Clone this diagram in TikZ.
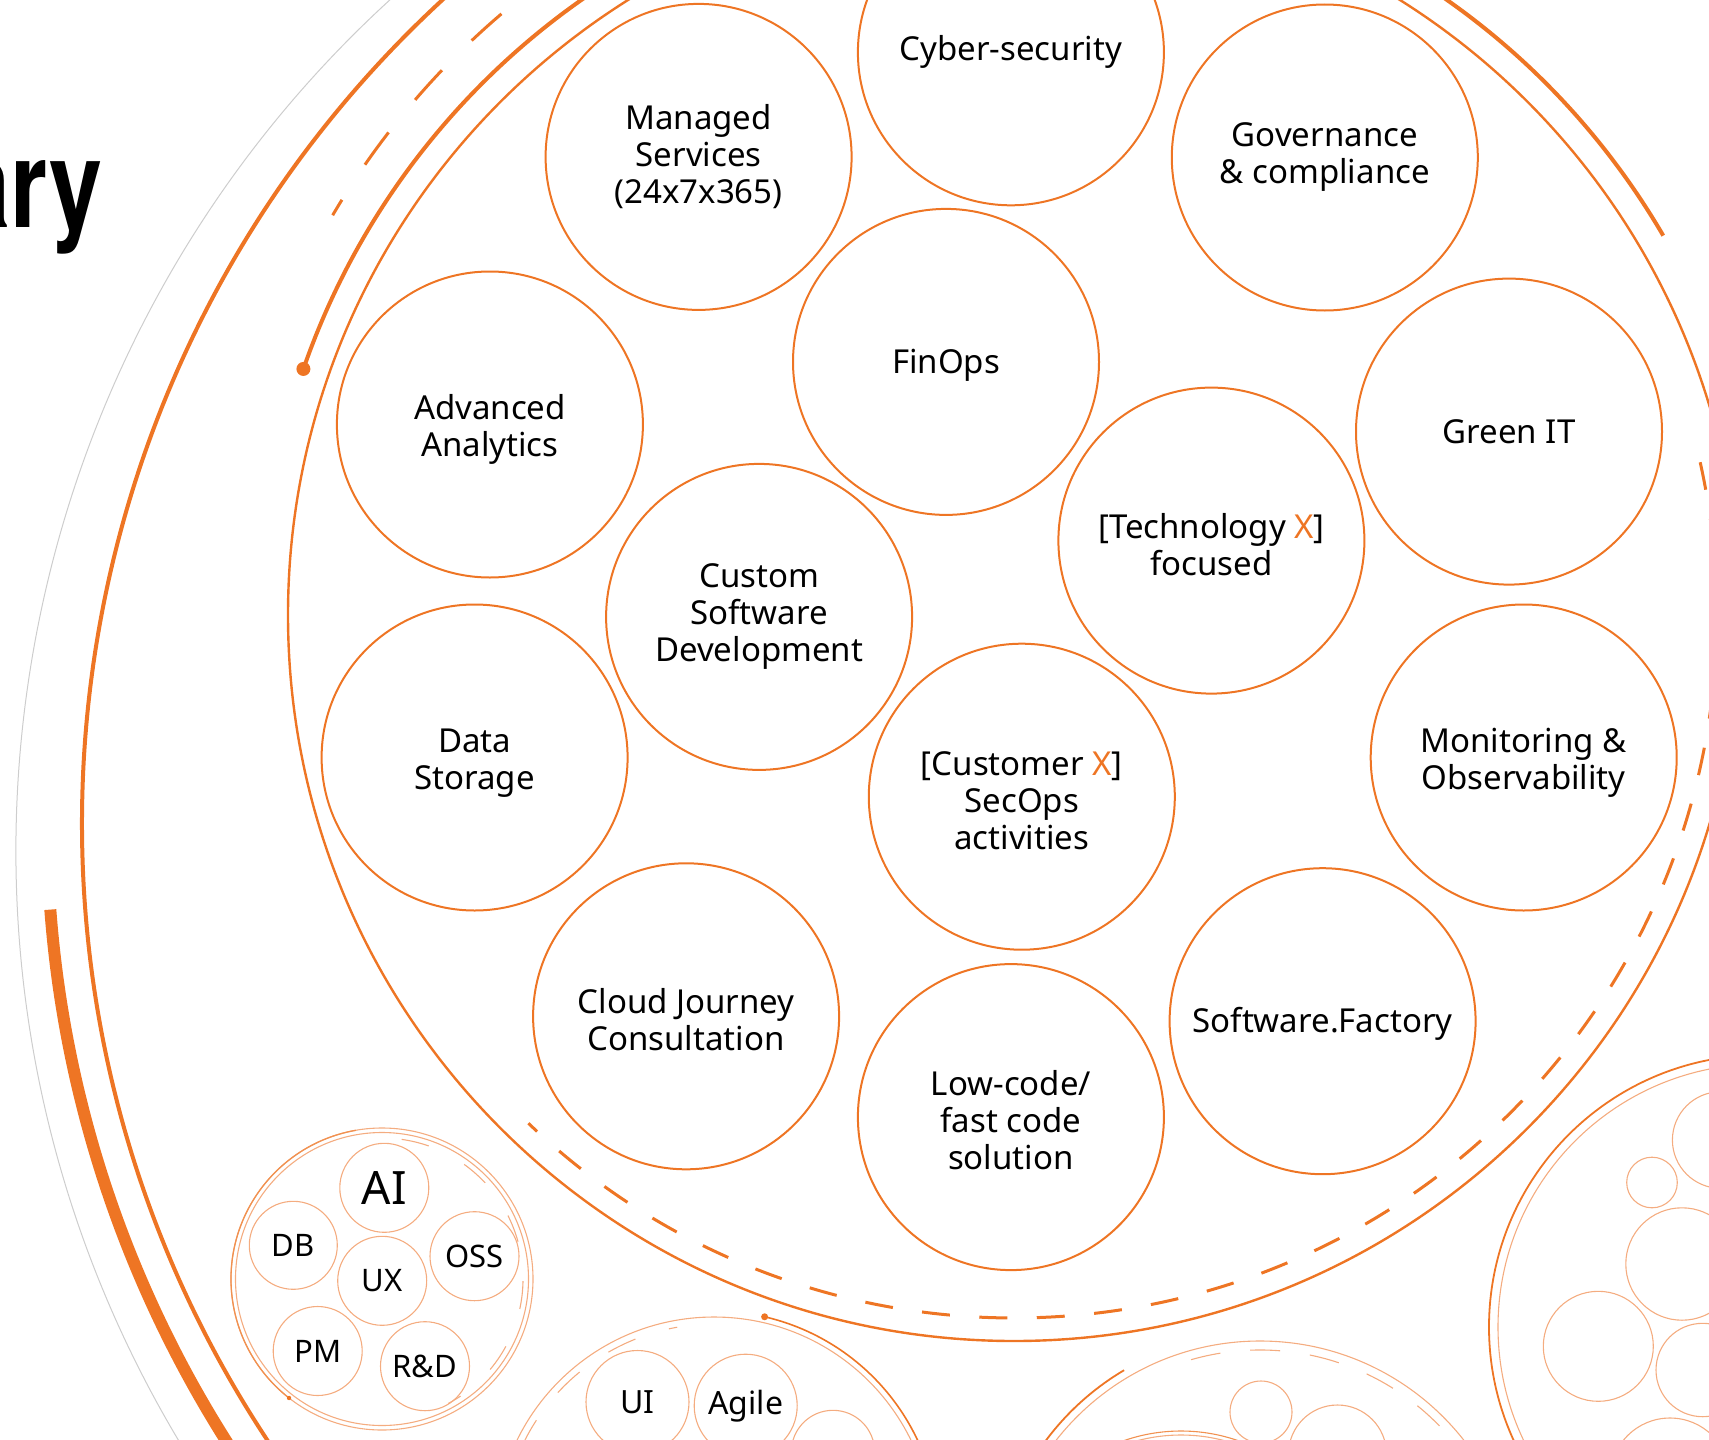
\documentclass[tikz,border=0pt]{standalone}
\usepackage{fontspec}
\usepackage{graphicx}
\usetikzlibrary{calc}
\setmainfont{Noto Sans}
\newfontfamily\headfont{TeX Gyre Heros}
\definecolor{brand}{RGB}{238,117,36}
\definecolor{pale}{RGB}{244,172,128}
\definecolor{faint}{RGB}{205,205,205}
\begin{document}
\begin{tikzpicture}[x=1pt,y=-1pt,
  svc/.style={circle, draw=brand, line width=2pt, minimum size=306pt, inner sep=0pt},
  lbl/.style={align=center, text=black, inner sep=0pt, font=\fontsize{33}{37}\selectfont},
  tiny/.style={circle, draw=pale, line width=1.1pt, inner sep=0pt, text=black, font=\fontsize{31}{36}\selectfont},
  ring/.style={draw=brand, line width=2.4pt},
  thinring/.style={draw=pale, line width=1.1pt},
  band/.style={draw=brand, line width=4pt},
  dashring/.style={draw=brand, line width=3pt},
]
\useasboundingbox (0,0) rectangle (1709,1440);
\clip (0,0) rectangle (1709,1440);

% heading fragment
\node[anchor=base east, inner sep=0pt, font=\headfont\bfseries\fontsize{122}{130}\selectfont] (head) at (103,227) {\scalebox{0.78}[1]{ary}};

% left orbits
\coordinate (L) at (1202,823);
\coordinate (G) at (1169,850);
\draw[faint, line width=1pt] (G) ++(-125:1153) arc[start angle=-125, end angle=-215, radius=1153];
\draw[band] (L) ++(-130:1120) arc[start angle=-130, end angle=-216, radius=1120];
\draw[brand, line width=12pt] (L) ++(-184.3:1155) arc[start angle=-184.3, end angle=-216, radius=1155];

% main orbit
\coordinate (M) at (1014,615);
\draw[ring] (M) circle[radius=726];
\draw[band] (M) ++(-30.3:752) arc[start angle=-30.3, end angle=-160.9, radius=752];
\coordinate (dot) at ($(M)+(-160.9:752)$);
\fill[brand] (dot) circle[radius=7];
\draw[dashring, dash pattern=on 40pt off 42pt, dash phase=22pt] (M) ++(-149.6:790) arc[start angle=-149.6, end angle=-115, radius=790];
\draw[dashring, dash pattern=on 28pt off 29.5pt, dash phase=16pt] (M) ++(-226.3:703) arc[start angle=-226.3, end angle=-374.3, radius=703];

% service circles
\node[svc, label={[lbl]center:{Managed\\Services\\(24x7x365)}}] (ms) at (698.6,156.9) {};
\node[svc, label={[lbl]center:{Cyber-security}}] (cs) at (1010.9,52.3) {};
\node[svc, label={[lbl]center:{Governance\\\& compliance}}] (gc) at (1324.8,157.5) {};
\node[svc, label={[lbl, yshift=-3pt]center:{FinOps}}] (fo) at (946,361.9) {};
\node[svc, label={[lbl, yshift=-5pt]center:{Advanced\\Analytics}}] (aa) at (489.9,424.5) {};
\node[svc, label={[lbl]center:{Green IT}}] (gi) at (1509,431.6) {};
\node[svc, label={[lbl, yshift=-4pt]center:{[Technology \textcolor{brand}{X}]\\focused}}] (tx) at (1211.4,540.6) {};
\node[svc, label={[lbl]center:{Custom\\Software\\Development}}] (sd) at (759.1,616.9) {};
\node[svc, label={[lbl, yshift=-6pt]center:{Data\\Storage}}] (ds) at (474.6,757.5) {};
\node[svc, label={[lbl, yshift=-4pt]center:{[Customer \textcolor{brand}{X}]\\SecOps\\activities}}] (cx) at (1021.8,796.7) {};
\node[svc, label={[lbl, yshift=-5pt]center:{Monitoring \&\\Observability}}] (mo) at (1523.7,757.5) {};
\node[svc, label={[lbl, yshift=-3pt]center:{Cloud Journey\\Consultation}}] (cj) at (686.1,1016.3) {};
\node[svc, label={[lbl, yshift=-3pt]center:{Low-code/\\fast code\\solution}}] (lc) at (1010.9,1117.1) {};
\node[svc, label={[lbl, yshift=-3pt]center:{Software.Factory}}] (sf) at (1322.6,1021.2) {};

% cluster A (AI)
\coordinate (A) at (382,1279);
\draw[thinring] (A) circle[radius=151];
\draw[thinring] (A) circle[radius=146.5];
\draw[brand!80, line width=1.3pt] (A) ++(-100:151) arc[start angle=-100, end angle=-232, radius=151];
\fill[brand] (A) ++(-232:151) circle[radius=2.2];
\draw[thinring, dash pattern=on 28pt off 40pt] (A) ++(-82:141) arc[start angle=-82, end angle=62, radius=141];
\node[tiny, minimum size=89pt, font=\fontsize{46}{50}\selectfont] (ai) at (384.3,1187.8) {AI};
\node[tiny, minimum size=88pt] (db) at (293.3,1245.3) {DB};
\node[tiny, minimum size=89pt] (ux) at (382.2,1280.8) {UX};
\node[tiny, minimum size=89pt] (oss) at (474.5,1256.2) {OSS};
\node[tiny, minimum size=89pt] (pm) at (317.7,1351) {PM};
\node[tiny, minimum size=89pt] (rd) at (425,1366.2) {R\&D};

% cluster B (UI / Agile)
\coordinate (B) at (714,1536);
\draw[thinring] (B) circle[radius=219];
\draw[brand, line width=1.6pt] (B) ++(-77:225) arc[start angle=-77, end angle=-20, radius=225];
\fill[brand] (B) ++(-77:225) circle[radius=3.5];
\draw[thinring, dash pattern=on 30pt off 35pt] (B) ++(-155:212) arc[start angle=-155, end angle=-100, radius=212];
\node[tiny, minimum size=103pt, font=\fontsize{32}{36}\selectfont] (ui) at (637.5,1402) {UI};
\node[tiny, minimum size=103pt, font=\fontsize{32}{36}\selectfont] (ag) at (745.7,1405.7) {Agile};
\draw[thinring] (833,1452) circle[radius=41.7];

% cluster C
\coordinate (C) at (1260,1600);
\draw[thinring] (C) circle[radius=259];
\draw[brand, line width=1.8pt] (C) ++(-120.6:267) arc[start angle=-120.6, end angle=-160, radius=267];
\draw[thinring, dash pattern=on 30pt off 30pt] (C) ++(-106:250) arc[start angle=-106, end angle=-30, radius=250];
\draw[thinring] (1261,1412) circle[radius=31];
\draw[thinring] (1337.5,1454) circle[radius=49];
\draw[brand!80, line width=1.1pt] (1181,1604) circle[radius=173];
\draw[thinring] (1181,1604) circle[radius=169];

% cluster D
\coordinate (D) at (1761,1327);
\draw[brand, line width=1.8pt] (D) circle[radius=272];
\draw[thinring] (D) circle[radius=263];
\draw[thinring] (1652,1182.5) circle[radius=25.3];
\draw[thinring] (1720.7,1140) circle[radius=48.3];
\draw[thinring] (1682,1264) circle[radius=56.2];
\draw[thinring] (1598.3,1346.3) circle[radius=55];
\draw[thinring] (1702.7,1370) circle[radius=46.7];
\draw[thinring] (1670,1478) circle[radius=60];
\end{tikzpicture}
\end{document}
